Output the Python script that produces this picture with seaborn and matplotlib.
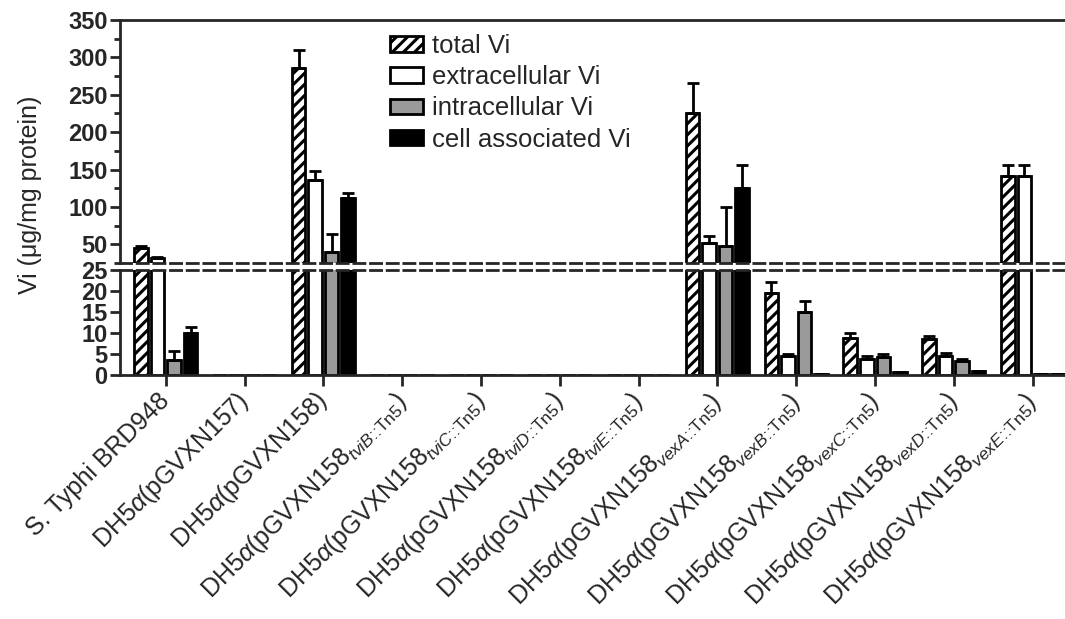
import numpy as np
import pandas as pd
import matplotlib
matplotlib.use('Agg')
import matplotlib.pyplot as plt
import seaborn as sns

strains = [
    'S. Typhi BRD948',
    r'DH5$\alpha$(pGVXN157)',
    r'DH5$\alpha$(pGVXN158)',
    r'DH5$\alpha$(pGVXN158$_{\mathit{tviB}\text{::Tn5}}$)',
    r'DH5$\alpha$(pGVXN158$_{\mathit{tviC}\text{::Tn5}}$)',
    r'DH5$\alpha$(pGVXN158$_{\mathit{tviD}\text{::Tn5}}$)',
    r'DH5$\alpha$(pGVXN158$_{\mathit{tviE}\text{::Tn5}}$)',
    r'DH5$\alpha$(pGVXN158$_{\mathit{vexA}\text{::Tn5}}$)',
    r'DH5$\alpha$(pGVXN158$_{\mathit{vexB}\text{::Tn5}}$)',
    r'DH5$\alpha$(pGVXN158$_{\mathit{vexC}\text{::Tn5}}$)',
    r'DH5$\alpha$(pGVXN158$_{\mathit{vexD}\text{::Tn5}}$)',
    r'DH5$\alpha$(pGVXN158$_{\mathit{vexE}\text{::Tn5}}$)',
]
fractions = ['total Vi', 'extracellular Vi', 'intracellular Vi', 'cell associated Vi']

total = [45, 0, 286, 0, 0, 0, 0, 226, 19.5, 8.8, 8.6, 141]
total_err = [3, 0, 24, 0, 0, 0, 0, 40, 2.7, 1.1, 0.8, 15]
extra = [31.5, 0, 136, 0, 0, 0, 0, 52, 4.5, 3.8, 4.6, 141]
extra_err = [2, 0, 12, 0, 0, 0, 0, 9, 0.6, 0.8, 0.6, 15]
intra = [3.5, 0, 40, 0, 0, 0, 0, 48, 15, 4.3, 3.3, 0.3]
intra_err = [2.2, 0, 24, 0, 0, 0, 0, 52, 2.6, 0.6, 0.6, 0]
cell = [10, 0, 112, 0, 0, 0, 0, 125, 0.3, 0.8, 0.9, 0.3]
cell_err = [1.4, 0, 6, 0, 0, 0, 0, 31, 0, 0, 0, 0]

values = [total, extra, intra, cell]
errors = [total_err, extra_err, intra_err, cell_err]

df = pd.DataFrame({
    'strain': strains * 4,
    'fraction': np.repeat(fractions, len(strains)),
    'vi': np.concatenate(values),
})

sns.set_style('ticks')
plt.rcParams['font.family'] = ['Liberation Sans', 'DejaVu Sans']
plt.rcParams['mathtext.fontset'] = 'custom'
plt.rcParams['mathtext.rm'] = 'Liberation Sans'
plt.rcParams['mathtext.it'] = 'Liberation Sans:italic'
plt.rcParams['hatch.linewidth'] = 2.2
plt.rcParams['axes.linewidth'] = 2.0

pal = ['white', 'white', '#9a9a9a', 'black']

fig = plt.figure(figsize=(10.65, 6.19), dpi=100)
L = 120 / 1065
ax_top = fig.add_axes([L, 1 - 263 / 619, 1 - L, (263 - 20) / 619])
ax_bot = fig.add_axes([L, 1 - 375 / 619, 1 - L, (375 - 270) / 619])

for ax in (ax_top, ax_bot):
    sns.barplot(data=df, x='strain', y='vi', hue='fraction', palette=pal,
                saturation=1, edgecolor='black', linewidth=2.0,
                width=0.84, gap=0.18, legend=False, ax=ax)
    for cont, err in zip(ax.containers, errors):
        xs = [p.get_x() + p.get_width() / 2 for p in cont.patches]
        ys = [p.get_height() for p in cont.patches]
        ax.errorbar(xs, ys, yerr=[np.zeros(len(err)), err], fmt='none',
                    ecolor='black', elinewidth=2.0, capsize=4, capthick=2.0)
    for p in ax.containers[0].patches:
        p.set_hatch('///')
    ax.set_xlim(-0.58, 11.41)
    ax.set_xlabel('')
    ax.set_ylabel('')
    ax.spines['right'].set_visible(False)
    ax.tick_params(axis='y', length=7, width=2, labelsize=17, pad=2)

ax_top.set_ylim(25, 350)
ax_top.set_yticks(np.arange(50, 351, 50))
ax_top.set_yticks(np.arange(25, 350, 25), minor=True)
ax_top.tick_params(axis='y', which='minor', length=4, width=2)
ax_top.tick_params(axis='x', bottom=False, labelbottom=False)
ax_top.spines['bottom'].set_linestyle((0, (4, 2)))

ax_bot.set_ylim(0, 25)
ax_bot.set_yticks(np.arange(0, 26, 5))
ax_bot.spines['top'].set_linestyle((0, (4, 2)))
ax_bot.tick_params(axis='x', length=8, width=2, labelsize=18, pad=8)
for t in ax_bot.get_xticklabels():
    t.set_rotation(45)
    t.set_ha('right')
    t.set_va('center')
    t.set_rotation_mode('anchor')

for ax in (ax_top, ax_bot):
    for t in ax.get_yticklabels():
        t.set_fontweight('bold')

fig.text(30 / 1065, 1 - 195 / 619, 'Vi (\u03bcg/mg protein)', rotation=90,
         ha='center', va='center', fontsize=18)

ax_top.legend(handles=ax_top.containers, labels=fractions, loc='upper left',
              bbox_to_anchor=(390 / 1065, 1 - 34 / 619),
              bbox_transform=fig.transFigure, frameon=False, fontsize=18.5,
              handlelength=1.3, handleheight=0.55, handletextpad=0.35,
              labelspacing=0.28, borderpad=0, borderaxespad=0)

fig.savefig('out.png', dpi=100)
